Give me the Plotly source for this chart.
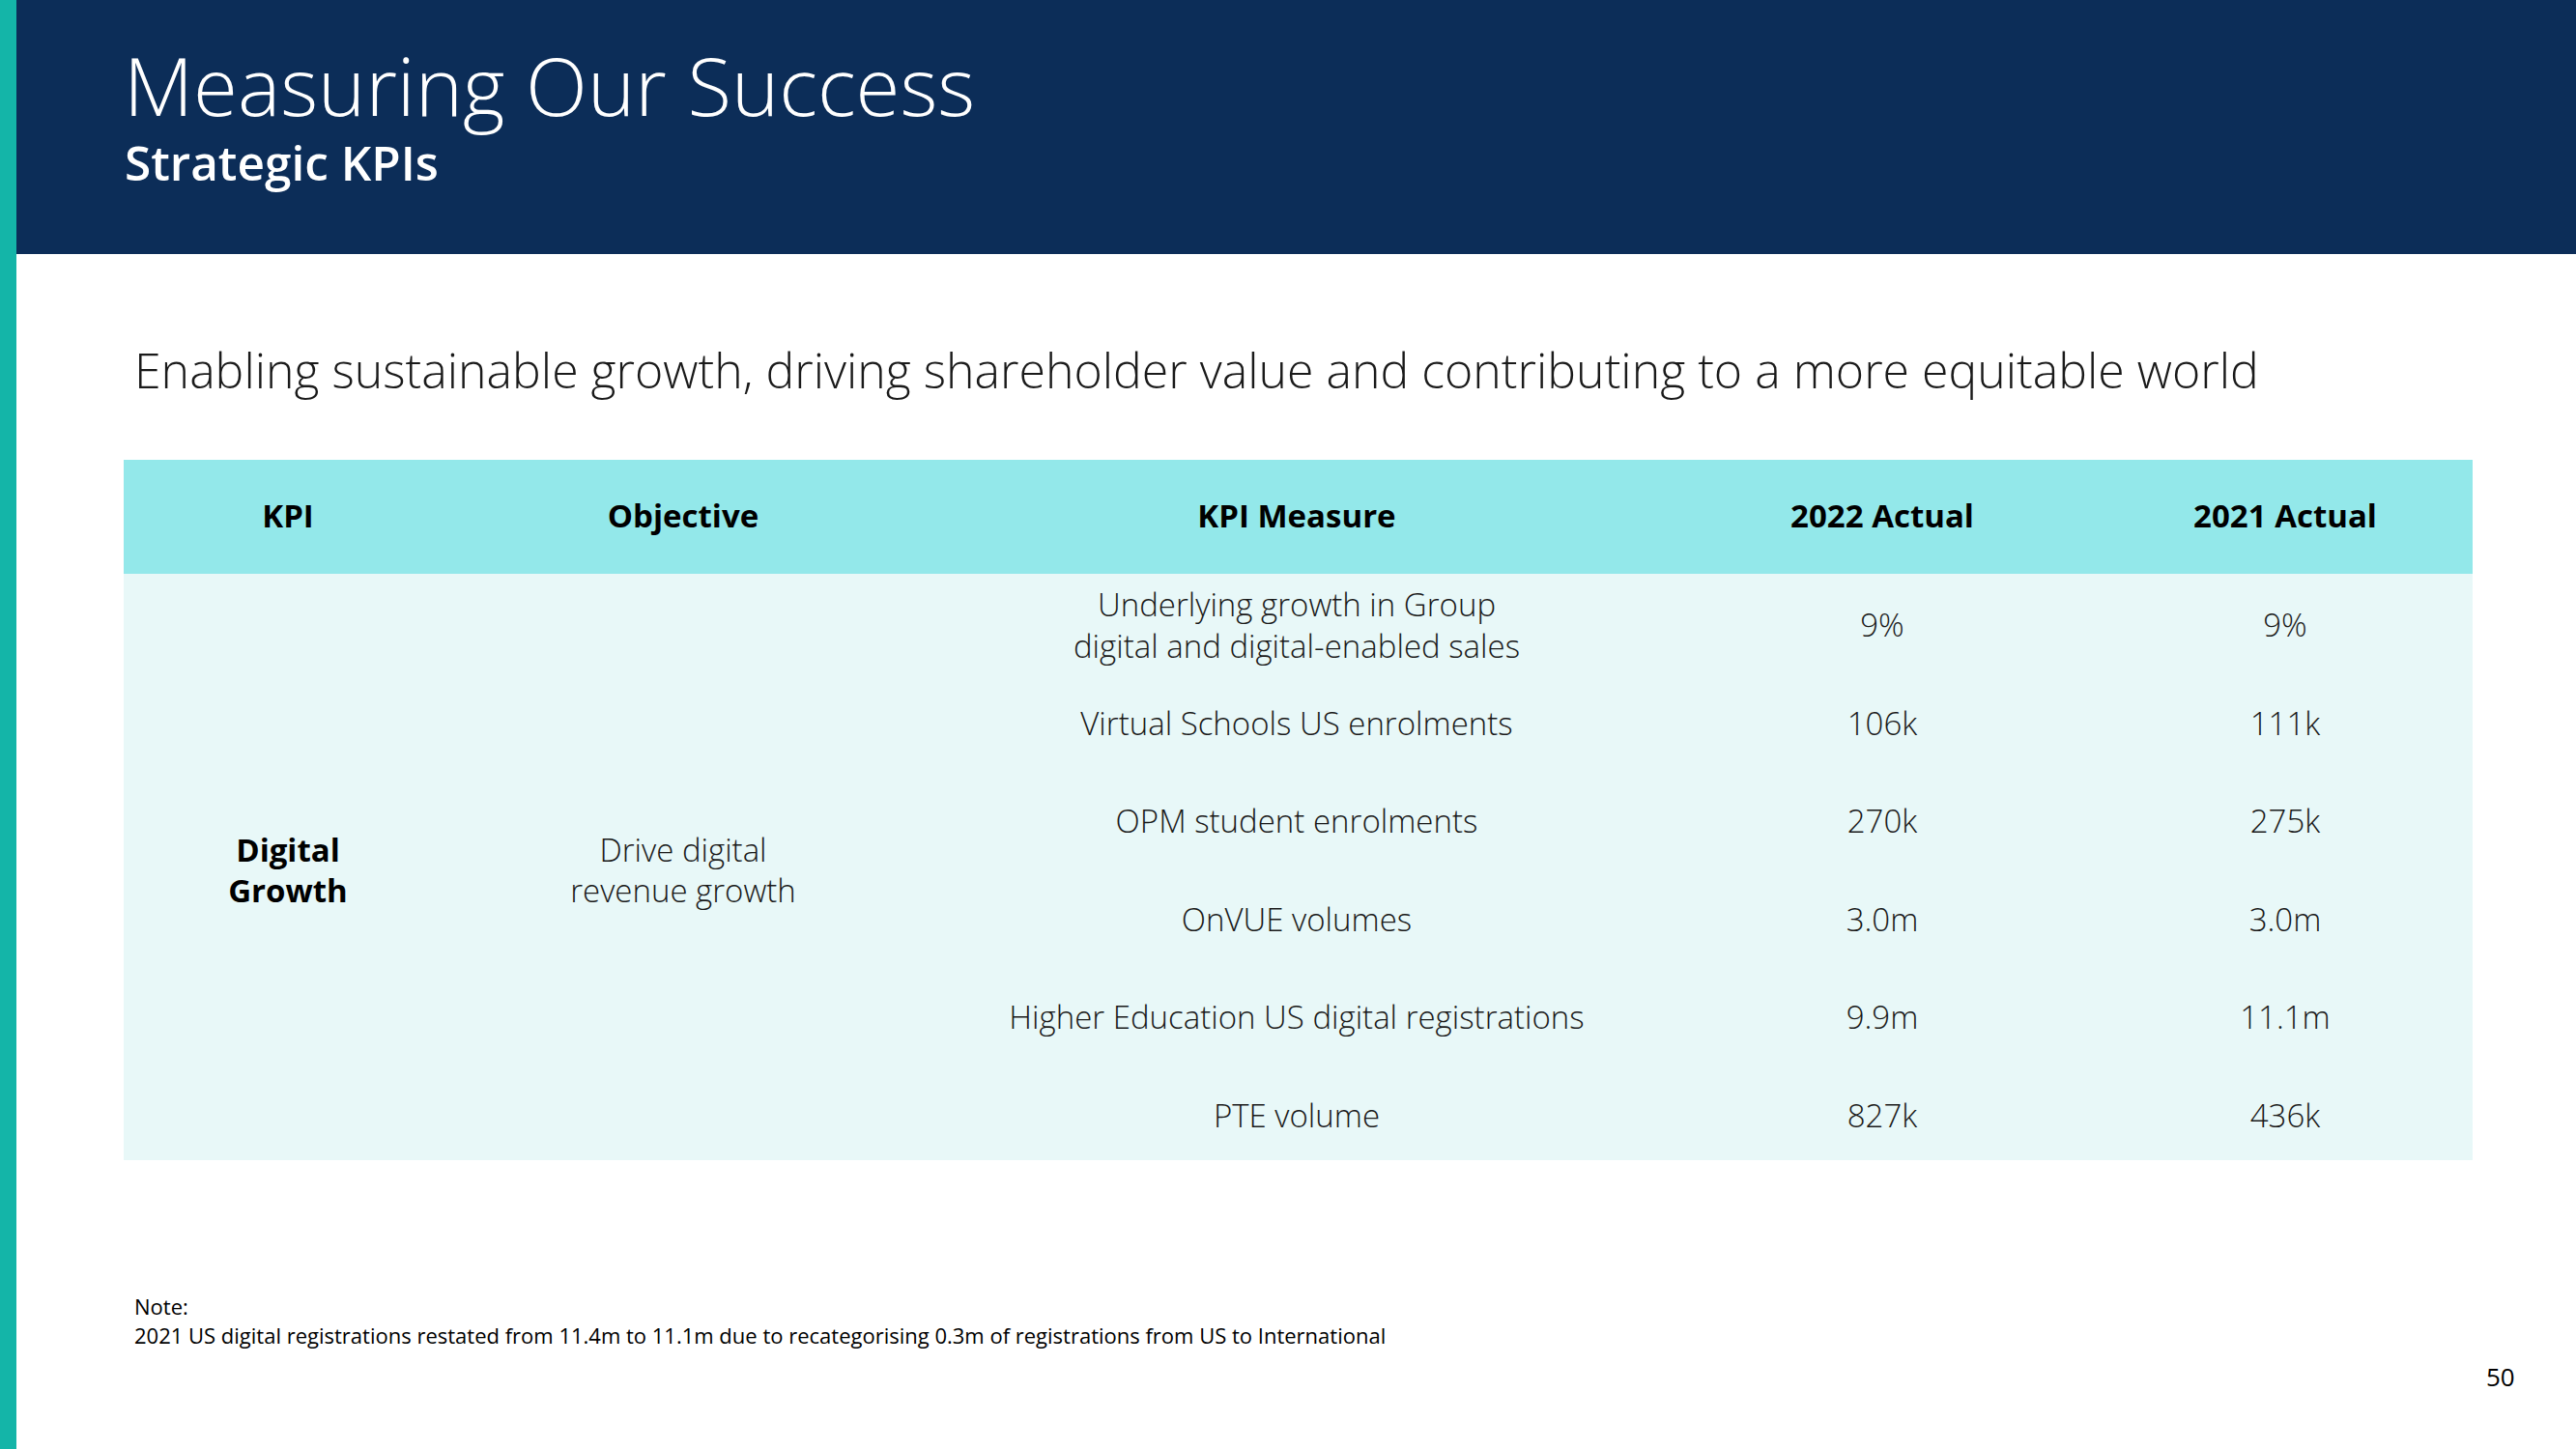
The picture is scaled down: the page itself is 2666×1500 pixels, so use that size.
import plotly.graph_objects as go

W, H = 2666, 1500

# ---------------- data ----------------
TITLE = "Measuring Our Success"
SUBTITLE = "Strategic KPIs"
TAGLINE = "Enabling sustainable growth, driving shareholder value and contributing to a more equitable world"
HEADERS = ["KPI", "Objective", "KPI Measure", "2022 Actual", "2021 Actual"]
KPI = "Digital<br>Growth"
OBJECTIVE = "Drive digital<br>revenue growth"
MEASURES = [
    "Underlying growth in Group<br>digital and digital-enabled sales",
    "Virtual Schools US enrolments",
    "OPM student enrolments",
    "OnVUE volumes",
    "Higher Education US digital registrations",
    "PTE volume",
]
ACTUAL_2022 = ["9%", "106k", "270k", "3.0m", "9.9m", "827k"]
ACTUAL_2021 = ["9%", "111k", "275k", "3.0m", "11.1m", "436k"]
NOTE_LINES = [
    "Note:",
    "2021 US digital registrations restated from 11.4m to 11.1m due to recategorising 0.3m of registrations from US to International",
]
PAGE_NUMBER = "50"

# ---------------- layout constants ----------------
NAVY = "#0c2d58"
TEAL = "#14b5a8"
HEAD_BG = "#93e8ea"
BODY_BG = "#e8f8f8"
FONT = "Open Sans"

COL_X = [298, 707, 1342, 1948, 2365]     # column centres (x axis in px units)
ROW0_PX, ROW_STEP = 651, 101.5           # y axis: row index -> px
HEADER_ROW = (538 - ROW0_PX) / ROW_STEP
TABLE_X0, TABLE_X1 = 128, 2559
HEAD_Y0, HEAD_Y1, BODY_Y1 = 476, 594, 1201


def py(px):
    return 1 - px / H


n = len(MEASURES)
rows = list(range(n))
mid_row = (n - 1) / 2

fig = go.Figure()

# header labels
fig.add_trace(go.Scatter(
    x=COL_X, y=[HEADER_ROW] * len(HEADERS), text=[f"<b>{h}</b>" for h in HEADERS],
    mode="text", textposition="middle center", hoverinfo="skip",
    textfont=dict(family=FONT, size=33, color="#000000", weight=700),
))
# KPI and objective (span all rows)
fig.add_trace(go.Scatter(
    x=[COL_X[0]], y=[mid_row], text=[f"<b>{KPI}</b>"], mode="text",
    textposition="middle center", hoverinfo="skip",
    textfont=dict(family=FONT, size=33, color="#000000", weight=700),
))
fig.add_trace(go.Scatter(
    x=[COL_X[1]], y=[mid_row], text=[OBJECTIVE], mode="text",
    textposition="middle center", hoverinfo="skip",
    textfont=dict(family=FONT, size=33, color="#1a1a1a", weight=300),
))
# measures and values
for ci, col in ((2, MEASURES), (3, ACTUAL_2022), (4, ACTUAL_2021)):
    fig.add_trace(go.Scatter(
        x=[COL_X[ci]] * n, y=rows, text=col, mode="text",
        textposition="middle center", hoverinfo="skip",
        textfont=dict(family=FONT, size=33, color="#1a1a1a", weight=300),
    ))

shapes = [
    dict(type="rect", xref="paper", yref="paper", x0=0, x1=1, y0=py(263), y1=1,
         fillcolor=NAVY, line=dict(width=0), layer="below"),
    dict(type="rect", xref="paper", yref="paper", x0=0, x1=17 / W, y0=0, y1=1,
         fillcolor=TEAL, line=dict(width=0), layer="below"),
    dict(type="rect", xref="x", yref="paper", x0=TABLE_X0, x1=TABLE_X1, y0=py(HEAD_Y1), y1=py(HEAD_Y0),
         fillcolor=HEAD_BG, line=dict(width=0), layer="below"),
    dict(type="rect", xref="x", yref="paper", x0=TABLE_X0, x1=TABLE_X1, y0=py(BODY_Y1), y1=py(HEAD_Y1),
         fillcolor=BODY_BG, line=dict(width=0), layer="below"),
]

annotations = [
    dict(text=TITLE, x=126 / W, y=py(88), xref="paper", yref="paper", xanchor="left", yanchor="middle",
         showarrow=False, font=dict(family=FONT, size=83.5, color="#ffffff", weight=300)),
    dict(text=SUBTITLE, x=127 / W, y=py(168), xref="paper", yref="paper", xanchor="left", yanchor="middle",
         showarrow=False, font=dict(family=FONT, size=49.5, color="#ffffff", weight=600)),
    dict(text=TAGLINE, x=137 / W, y=py(383), xref="paper", yref="paper", xanchor="left", yanchor="middle",
         showarrow=False, font=dict(family=FONT, size=50, color="#1a1a1a", weight=300)),
    dict(text=NOTE_LINES[0], x=137 / W, y=py(1352), xref="paper", yref="paper", xanchor="left", yanchor="middle",
         showarrow=False, font=dict(family=FONT, size=22, color="#000000")),
    dict(text=NOTE_LINES[1], x=137 / W, y=py(1382), xref="paper", yref="paper", xanchor="left", yanchor="middle",
         showarrow=False, font=dict(family=FONT, size=22, color="#000000")),
    dict(text=PAGE_NUMBER, x=2588 / W, y=py(1425), xref="paper", yref="paper", xanchor="center", yanchor="middle",
         showarrow=False, font=dict(family=FONT, size=26, color="#000000")),
]

fig.update_layout(
    width=W, height=H,
    margin=dict(l=0, r=0, t=0, b=0),
    paper_bgcolor="#ffffff", plot_bgcolor="rgba(0,0,0,0)",
    showlegend=False,
    shapes=shapes, annotations=annotations,
    xaxis=dict(range=[0, W], visible=False, fixedrange=True),
    yaxis=dict(range=[(H - ROW0_PX) / ROW_STEP, -ROW0_PX / ROW_STEP], visible=False, fixedrange=True),
)

fig.write_html(
    "out.html",
    config={"displayModeBar": False},
    post_script="document.body.style.margin='0';document.body.style.overflow='hidden';",
)
